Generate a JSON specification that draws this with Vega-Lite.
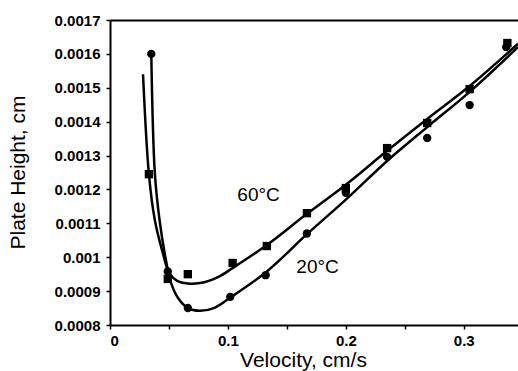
{
  "$schema": "https://vega.github.io/schema/vega-lite/v6.json",
  "width": 408,
  "height": 305,
  "autosize": {"type": "none"},
  "padding": {"left": 110, "top": 20, "right": 0, "bottom": 46},
  "background": "white",
  "config": {
    "font": "Liberation Sans",
    "view": {"stroke": null}
  },
  "datasets": {
    "points": [
      {"series": "60°C", "v": 0.033, "h": 0.001245},
      {"series": "60°C", "v": 0.049, "h": 0.000936},
      {"series": "60°C", "v": 0.066, "h": 0.00095},
      {"series": "60°C", "v": 0.104, "h": 0.000983},
      {"series": "60°C", "v": 0.133, "h": 0.001033},
      {"series": "60°C", "v": 0.167, "h": 0.00113},
      {"series": "60°C", "v": 0.200, "h": 0.001204},
      {"series": "60°C", "v": 0.235, "h": 0.001322},
      {"series": "60°C", "v": 0.269, "h": 0.001396},
      {"series": "60°C", "v": 0.305, "h": 0.001496},
      {"series": "60°C", "v": 0.337, "h": 0.001632},
      {"series": "20°C", "v": 0.035, "h": 0.0016},
      {"series": "20°C", "v": 0.049, "h": 0.000958},
      {"series": "20°C", "v": 0.066, "h": 0.00085},
      {"series": "20°C", "v": 0.102, "h": 0.000883},
      {"series": "20°C", "v": 0.132, "h": 0.000947},
      {"series": "20°C", "v": 0.167, "h": 0.00107},
      {"series": "20°C", "v": 0.200, "h": 0.00119},
      {"series": "20°C", "v": 0.235, "h": 0.001296},
      {"series": "20°C", "v": 0.269, "h": 0.001352},
      {"series": "20°C", "v": 0.305, "h": 0.001449},
      {"series": "20°C", "v": 0.336, "h": 0.00162}
    ],
    "curves": [
      {"series": "60°C", "v": 0.028, "h": 0.00154},
      {"series": "60°C", "v": 0.033, "h": 0.001245},
      {"series": "60°C", "v": 0.038, "h": 0.00111},
      {"series": "60°C", "v": 0.045, "h": 0.00101},
      {"series": "60°C", "v": 0.05, "h": 0.000955},
      {"series": "60°C", "v": 0.057, "h": 0.00093},
      {"series": "60°C", "v": 0.068, "h": 0.000922},
      {"series": "60°C", "v": 0.08, "h": 0.000926},
      {"series": "60°C", "v": 0.092, "h": 0.000942},
      {"series": "60°C", "v": 0.104, "h": 0.000968},
      {"series": "60°C", "v": 0.133, "h": 0.001036},
      {"series": "60°C", "v": 0.167, "h": 0.001128},
      {"series": "60°C", "v": 0.200, "h": 0.001214},
      {"series": "60°C", "v": 0.235, "h": 0.001314},
      {"series": "60°C", "v": 0.269, "h": 0.001408},
      {"series": "60°C", "v": 0.305, "h": 0.001505},
      {"series": "60°C", "v": 0.346, "h": 0.00163},
      {"series": "20°C", "v": 0.035, "h": 0.0016},
      {"series": "20°C", "v": 0.038, "h": 0.00125},
      {"series": "20°C", "v": 0.042, "h": 0.00111},
      {"series": "20°C", "v": 0.0475, "h": 0.00099},
      {"series": "20°C", "v": 0.052, "h": 0.000922},
      {"series": "20°C", "v": 0.058, "h": 0.000878},
      {"series": "20°C", "v": 0.066, "h": 0.00085},
      {"series": "20°C", "v": 0.076, "h": 0.000842},
      {"series": "20°C", "v": 0.088, "h": 0.00085},
      {"series": "20°C", "v": 0.102, "h": 0.000881},
      {"series": "20°C", "v": 0.133, "h": 0.000958},
      {"series": "20°C", "v": 0.167, "h": 0.001068},
      {"series": "20°C", "v": 0.200, "h": 0.00117},
      {"series": "20°C", "v": 0.235, "h": 0.001284},
      {"series": "20°C", "v": 0.269, "h": 0.001384},
      {"series": "20°C", "v": 0.305, "h": 0.001488},
      {"series": "20°C", "v": 0.346, "h": 0.00162}
    ],
    "labels": [
      {"text": "60°C", "v": 0.126, "h": 0.001184},
      {"text": "20°C", "v": 0.176, "h": 0.000971}
    ]
  },
  "encoding": {
    "x": {
      "field": "v",
      "type": "quantitative",
      "scale": {"domain": [0, 0.346], "nice": false, "zero": false},
      "axis": {
        "values": [0, 0.05, 0.1, 0.15, 0.2, 0.25, 0.3],
        "labelExpr": "abs(datum.value*10 - round(datum.value*10)) < 0.001 ? format(datum.value, '~g') : ''",
        "grid": false,
        "domainColor": "black",
        "domainWidth": 2,
        "tickColor": "black",
        "tickSize": 4,
        "tickWidth": 1.5,
        "labelColor": "black",
        "labelFontSize": 15,
        "labelFontWeight": "bold",
        "labelPadding": 4,
        "title": "Velocity, cm/s",
        "titleColor": "black",
        "titleFontSize": 21,
        "titleFontWeight": "normal",
        "titleX": 193,
        "titleY": 41,
        "titleAlign": "center",
        "titleBaseline": "alphabetic"
      }
    },
    "y": {
      "field": "h",
      "type": "quantitative",
      "scale": {"domain": [0.0008, 0.0017], "nice": false, "zero": false},
      "axis": {
        "values": [0.0008, 0.0009, 0.001, 0.0011, 0.0012, 0.0013, 0.0014, 0.0015, 0.0016, 0.0017],
        "format": ".4~f",
        "grid": true,
        "gridColor": "black",
        "gridWidth": 2,
        "gridOpacity": {"condition": {"test": "datum.value > 0.00169", "value": 1}, "value": 0},
        "domainColor": "black",
        "domainWidth": 2,
        "tickColor": "black",
        "tickSize": 4,
        "tickWidth": 1.5,
        "labelColor": "black",
        "labelFontSize": 15,
        "labelFontWeight": "bold",
        "labelPadding": 6,
        "title": "Plate Height, cm",
        "titleColor": "black",
        "titleFontSize": 21,
        "titleFontWeight": "normal",
        "titleX": -92,
        "titleY": 152,
        "titleAlign": "center",
        "titleBaseline": "middle"
      }
    }
  },
  "layer": [
    {
      "data": {"name": "curves"},
      "mark": {"type": "line", "color": "black", "strokeWidth": 2.5, "interpolate": "catmull-rom", "clip": true},
      "encoding": {"detail": {"field": "series"}}
    },
    {
      "data": {"name": "points"},
      "mark": {"type": "point", "filled": true, "color": "black", "opacity": 1, "size": 70},
      "encoding": {
        "shape": {
          "field": "series",
          "type": "nominal",
          "scale": {"domain": ["60°C", "20°C"], "range": ["square", "circle"]},
          "legend": null
        }
      }
    },
    {
      "data": {"name": "labels"},
      "mark": {"type": "text", "color": "black", "fontSize": 19, "align": "center", "baseline": "middle"},
      "encoding": {"text": {"field": "text"}}
    }
  ]
}
